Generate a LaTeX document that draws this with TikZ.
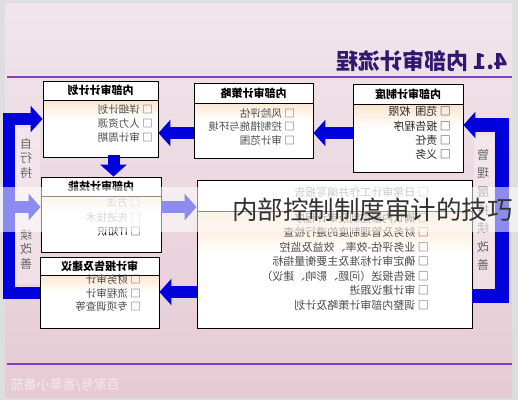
\documentclass[tikz,border=0pt]{standalone}
\usepackage{fontspec}
\newfontfamily\cjk{Noto Sans CJK SC}
\usetikzlibrary{arrows.meta}
\definecolor{slidetop}{HTML}{F1E5EB}
\definecolor{slidebot}{HTML}{E6CAD4}
\definecolor{rulepurple}{HTML}{8040C0}
\definecolor{titlepurple}{HTML}{30186E}
\definecolor{arrowblue}{HTML}{0000DC}
\definecolor{peach}{HTML}{F8CDA2}
\begin{document}
\begin{tikzpicture}[x=1pt, y=-1pt,
	panel/.style={draw=black, line width=0.9pt, inner sep=0pt,
		top color=peach, bottom color=white, middle color=white},
	headbox/.style={draw=black, line width=0.9pt, fill=white, anchor=north,
		xscale=-1, inner sep=0pt, font=\cjk\bfseries\fontsize{11}{11}\selectfont},
	items/.style={xscale=-1, anchor=north west, align=left, inner sep=0pt,
		text=black!70, font=\cjk\fontsize{10.5}{14}\selectfont},
	vtext/.style={xscale=-1, align=center, inner sep=0pt, text=black!60,
		font=\cjk\fontsize{12}{14.5}\selectfont},
	barrow/.style={draw=arrowblue, line width=12pt,
		-{Triangle[width=26pt,length=12pt]}},
	bracket/.style={barrow, line join=miter}]
		\useasboundingbox (0,0) rectangle (518,400);
		\clip (0,0) rectangle (518,400);
		\fill[black!13] (0,0) rectangle (518,400);
		\shade[top color=slidetop, bottom color=slidebot] (5,3) rectangle (512,397);
		
		\node[xscale=-1, anchor=west, inner sep=0pt, text=titlepurple,
			font=\cjk\bfseries\fontsize{22}{22}\selectfont] (title) at (508,61)
			{4.1 内部审计流程};
		\draw[rulepurple, line width=2.2pt] (7,77) -- (512,77);
		\draw[rulepurple, line width=2.2pt] (7,364) -- (512,364);
		
		\fill[white, opacity=0.3] (14,128) rectangle (40,284);
		\fill[white, opacity=0.3] (474,135) rectangle (494,292);
		
		\node[panel, minimum width=115pt, minimum height=76pt] (tl) at (100.5,119) {};
		\node[headbox, minimum width=115pt, minimum height=19pt] (tlhead) at (tl.north) {内部审计计划};
		\node[items] (tlitems) at (153,104.5) {□ 详细计划\\□ 人力资源\\□ 审计周期};
		
		\node[panel, minimum width=119pt, minimum height=75pt] (tm) at (253.5,120.5) {};
		\node[headbox, minimum width=119pt, minimum height=20pt] (tmhead) at (tm.north) {内部审计策略};
		\node[items, font=\cjk\fontsize{10.5}{13.5}\selectfont] (tmitems) at (295,108)
			{□ 风险评估\\□ 控制措施与环境\\□ 审计范围};
		
		\node[panel, minimum width=110pt, minimum height=88pt] (tr) at (408,128) {};
		\node[headbox, minimum width=110pt, minimum height=20pt] (trhead) at (tr.north) {内部审计制度};
		\node[items, text=black!85, font=\cjk\fontsize{11}{14.3}\selectfont] (tritems) at (451,106.5)
			{□ 范围\ \ 权限\\□ 报告程序\\□ 责任\\□ 义务};
		
		\node[panel, minimum width=120pt, minimum height=75pt] (ml) at (101,214.5) {};
		\node[headbox, minimum width=120pt, minimum height=19pt] (mlhead) at (ml.north) {内部审计技能};
		\node[items, font=\cjk\fontsize{10.5}{14.5}\selectfont] (mlitems) at (141,197.5)
			{\textcolor{black!35}{□ 方法}\\\textcolor{black!35}{□ 先进技术}\\\textcolor{black!90}{□ IT知识}};
		
		\node[panel, minimum width=119pt, minimum height=71pt] (bl) at (99.5,292.5) {};
		\node[headbox, minimum width=119pt, minimum height=18pt] (blhead) at (bl.north) {审计报告及建议};
		\node[items, font=\cjk\fontsize{10.5}{13.5}\selectfont] (blitems) at (141,274.5)
			{□ 财务审计\\□ 流程审计\\□ 专项调查等};
		
		\node[panel, minimum width=275pt, minimum height=148pt] (big) at (334.5,254) {};
		\node[headbox, minimum width=275pt, minimum height=31pt] (bighead) at (big.north) {};
		\node[items, text=black!45, font=\cjk\fontsize{11}{14.5}\selectfont] (bigtop) at (429,186.5)
			{□ 日常审计工作并编写报告};
		\node[items, font=\cjk\fontsize{11}{14.5}\selectfont] (bigitems) at (429,212.5)
			{□ 确认内部控制及审计程序\\□ 财务及管理制度的遵行检查\\□ 业务评估-效率、效益及监控\\
			□ 确定审计标准及主要衡量指标\\□ 报告报送（问题、影响、建议）\\□ 审计建议跟进\\
			□ 调整内部审计策略及计划};
		
		\node[vtext] (selfup) at (26,158) {自\\行\\持};
		\node[vtext] (selfdown) at (26,249) {续\\改\\善};
		\node[vtext, font=\cjk\fontsize{12}{18.3}\selectfont] (mgmt) at (483,210)
			{管\\理\\层\\持\\续\\改\\善};
		
		\coordinate (trout) at ([yshift=-5pt]tr.west);
		\coordinate (tmout) at ([yshift=-12.5pt]tm.west);
		\coordinate (tldown) at ([xshift=13pt]tl.south);
		\coordinate (mlin) at ([yshift=7.5pt]ml.west);
		\coordinate (mlout) at ([yshift=7.5pt]ml.east);
		\coordinate (bigout) at ([yshift=-38pt]big.west);
		\coordinate (bigr) at ([yshift=-42pt]big.east);
		\coordinate (trin) at ([yshift=3pt]tr.east);
		\coordinate (lx) at (8.5,200);
		\coordinate (rx) at (501.5,200);
		
		\draw[barrow] (trout) -- (trout -| tm.east);
		\draw[barrow] (tmout) -- (tmout -| tl.east);
		\draw[barrow] ([yshift=2pt]tldown) -- (tldown |- ml.north);
		\draw[barrow] (mlin -| lx) -- (mlin);
		\draw[barrow] (mlout) -- (mlout -| big.west);
		\draw[barrow] (bigout) -- (bigout -| bl.east);
		\draw[bracket] (bl.west) -| (lx) |- (tl.west);
		\draw[bracket, line width=14pt] (bigr) -| (rx) |- (trin);
		
		\fill[white, opacity=0.55] (0,187) rectangle (518,232);
		\node[anchor=west, inner sep=0pt, text=black!80,
			font=\cjk\fontsize{25.5}{25.5}\selectfont] (overlay) at (232,210)
			{内部控制制度审计的技巧};
		\node[xscale=-1, anchor=west, inner sep=0pt, text=white, opacity=0.6,
			font=\cjk\fontsize{13}{13}\selectfont] (mark) at (120,385)
			{百家号/香草小番茄};
\end{tikzpicture}
\end{document}
